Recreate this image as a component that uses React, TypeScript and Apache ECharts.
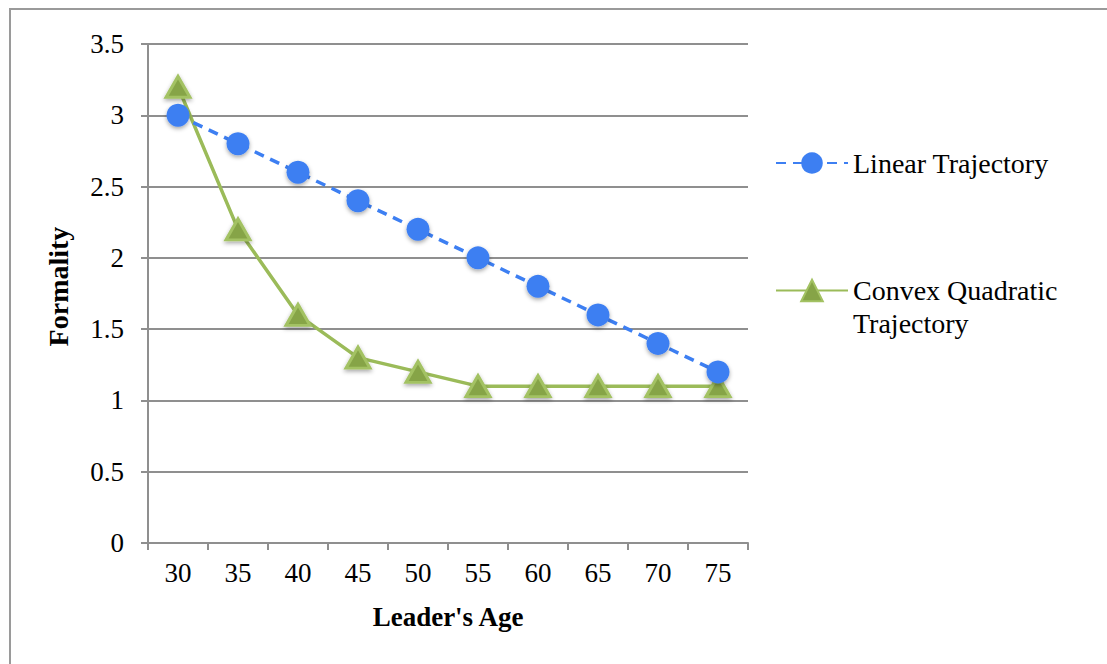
import React, { useEffect, useRef } from "react";
import * as echarts from "echarts";

const ages = ["30", "35", "40", "45", "50", "55", "60", "65", "70", "75"];
const linearTrajectory = [3.0, 2.8, 2.6, 2.4, 2.2, 2.0, 1.8, 1.6, 1.4, 1.2];
const convexQuadratic = [3.2, 2.2, 1.6, 1.3, 1.2, 1.1, 1.1, 1.1, 1.1, 1.1];

const FONT = "'Liberation Serif', 'DejaVu Serif', serif";
const AXIS_GRAY = "#8f8f8f";
const BLUE = "#3d7ff2";
const GREEN = "#9bbb59";

export default function App() {
  const ref = useRef<HTMLDivElement>(null);

  useEffect(() => {
    if (!ref.current) return;
    const chart = echarts.init(ref.current, undefined, { renderer: "svg" });
    const shadow = {
      shadowBlur: 4,
      shadowOffsetX: 0,
      shadowOffsetY: 2,
      shadowColor: "rgba(0,0,0,0.35)",
    };
    chart.setOption({
      animation: false,
      backgroundColor: "#ffffff",
      textStyle: { fontFamily: FONT },
      graphic: [
        {
          type: "rect",
          shape: { x: 10, y: 9, width: 1300, height: 900 },
          style: { fill: "none", stroke: "#9a9a9a", lineWidth: 2 },
          silent: true,
        },
      ],
      grid: { left: 148, right: 359, top: 44, bottom: 121, containLabel: false },
      legend: [
        {
          data: ["Linear Trajectory"],
          left: 775,
          top: 148,
          padding: 0,
          itemWidth: 72,
          itemHeight: 27,
          textStyle: { fontFamily: FONT, fontSize: 28, color: "#000", lineHeight: 30 },
        },
        {
          data: ["Convex Quadratic Trajectory"],
          left: 775,
          top: 241,
          padding: 0,
          itemWidth: 72,
          itemHeight: 27,
          formatter: () => "\nConvex Quadratic\nTrajectory",
          textStyle: { fontFamily: FONT, fontSize: 28, color: "#000", lineHeight: 33 },
        },
      ],
      xAxis: {
        type: "category",
        data: ages,
        boundaryGap: true,
        name: "Leader's Age",
        nameLocation: "middle",
        nameGap: 60,
        nameTextStyle: { fontFamily: FONT, fontSize: 27, fontWeight: "bold", color: "#000" },
        axisLine: { show: true, lineStyle: { color: AXIS_GRAY, width: 2 } },
        axisTick: { show: true, length: 7, alignWithLabel: false, lineStyle: { color: AXIS_GRAY, width: 2 } },
        axisLabel: { fontFamily: FONT, fontSize: 27, color: "#000", margin: 16 },
        splitLine: { show: false },
      },
      yAxis: {
        type: "value",
        min: 0,
        max: 3.5,
        interval: 0.5,
        name: "Formality",
        nameLocation: "middle",
        nameGap: 76,
        nameRotate: 90,
        nameTextStyle: {
          fontFamily: FONT,
          fontSize: 28,
          fontWeight: "bold",
          color: "#000",
          padding: [0, 0, 0, 14],
        },
        axisLine: { show: true, lineStyle: { color: AXIS_GRAY, width: 2 } },
        axisTick: { show: true, length: 7, lineStyle: { color: AXIS_GRAY, width: 2 } },
        axisLabel: { fontFamily: FONT, fontSize: 27, color: "#000", margin: 24 },
        splitLine: { show: true, lineStyle: { color: AXIS_GRAY, width: 2 } },
      },
      series: [
        {
          name: "Linear Trajectory",
          type: "line",
          data: linearTrajectory,
          symbol: "circle",
          symbolSize: 23,
          lineStyle: { color: BLUE, width: 3.5, type: [10, 7] },
          itemStyle: { color: BLUE, ...shadow },
          z: 3,
        },
        {
          name: "Convex Quadratic Trajectory",
          type: "line",
          data: convexQuadratic,
          symbol: "triangle",
          symbolSize: [24, 21],
          lineStyle: { color: GREEN, width: 3.5 },
          itemStyle: { color: "#86a447", borderColor: "#a3c263", borderWidth: 3, ...shadow },
          z: 2,
        },
      ],
    });
    return () => chart.dispose();
  }, []);

  return (
    <div
      ref={ref}
      style={{ position: "fixed", left: 0, top: 0, width: 1107, height: 664 }}
    />
  );
}
